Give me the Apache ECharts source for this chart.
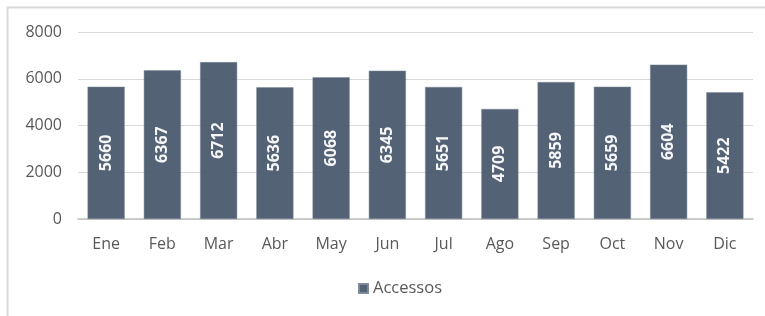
<!DOCTYPE html>
<html><head><meta charset="utf-8">
<script src="https://cdn.jsdelivr.net/npm/echarts@6/dist/echarts.min.js"></script>
<style>html,body{margin:0;padding:0;background:#fff}#c{width:765px;height:316px}</style>
</head><body><div id="c"></div>
<script>
var categories = ['Ene','Feb','Mar','Abr','May','Jun','Jul','Ago','Sep','Oct','Nov','Dic'];
var accessos = [5660,6367,6712,5636,6068,6345,5651,4709,5859,5659,6604,5422];
var yTicks = [0,2000,4000,6000,8000];
var seriesName = 'Accessos';

var chart = echarts.init(document.getElementById('c'));
chart.setOption({
  animation:false,
  textStyle:{fontFamily:'Open Sans'},
  grid:{left:78,right:12,top:32,bottom:97},
  legend:{bottom:14,left:353,itemWidth:9,itemHeight:9,icon:'rect',itemGap:8,
    textStyle:{color:'#595959',fontSize:16.5,fontFamily:'Open Sans'},data:[seriesName]},
  xAxis:{type:'category',data:categories,
    axisLine:{lineStyle:{color:'#bfbfbf',width:1.5}},axisTick:{show:false},
    axisLabel:{color:'#595959',fontSize:16,margin:17}},
  yAxis:{type:'value',min:yTicks[0],max:yTicks[yTicks.length-1],interval:2000,
    axisLine:{show:false},axisTick:{show:false},
    axisLabel:{color:'#595959',fontSize:16,margin:16,formatter:function(v){return String(v);}},
    splitLine:{lineStyle:{color:'#d9d9d9',width:1.2}}},
  series:[{name:seriesName,type:'bar',data:accessos,barWidth:'66%',
    itemStyle:{color:'#4b5a6e',opacity:0.95,borderColor:'#7d8898',borderWidth:0.5},
    label:{show:true,position:'inside',rotate:90,color:'#fff',fontWeight:'bold',fontSize:16,fontFamily:'Open Sans'}}],
  graphic:[{type:'polyline',shape:{points:[[7.5,316],[7.5,7.5],[765,7.5]]},
    style:{stroke:'#d9d9d9',lineWidth:2,fill:null}}]
});
</script></body></html>
